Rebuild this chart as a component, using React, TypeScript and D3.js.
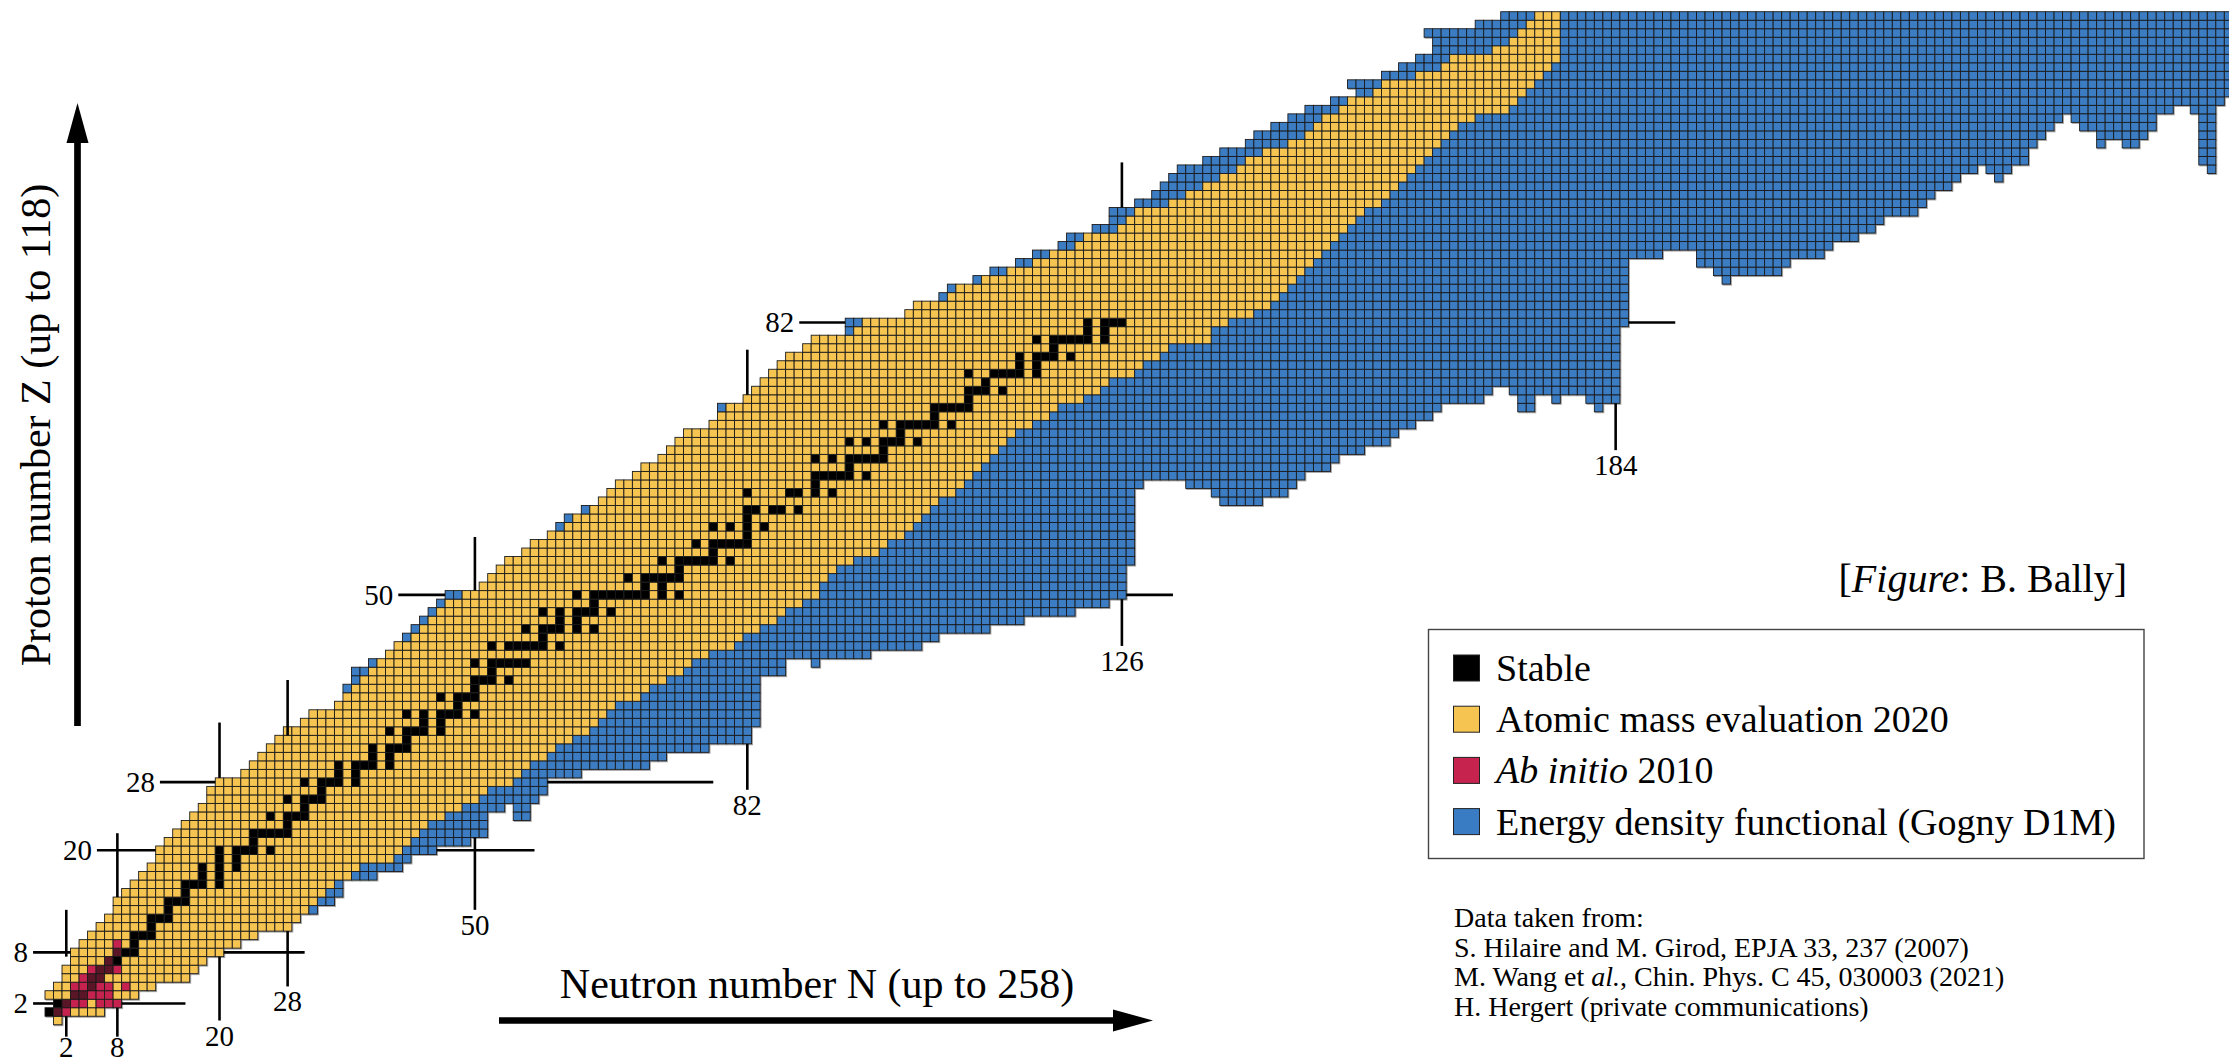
import React from 'react';
import * as d3 from 'd3';

// ---------- DATA ----------
// index = proton number Z (0..118)
const AME_MIN_N = [1,0,1,0,1,2,2,3,3,4,5,6,7,8,8,9,10,11,12,13,13,14,15,16,17,18,19,19,20,23,24,25,26,27,28,30,31,34,35,36,37,38,39,40,41,43,44,45,46,47,49,51,52,53,54,56,57,59,61,62,64,65,66,67,69,70,72,73,74,75,78,79,80,82,83,84,85,86,87,89,90,95,96,101,102,106,107,110,113,116,118,121,122,126,127,128,132,134,136,138,140,141,143,146,148,149,150,152,153,156,157,161,164,165,170,172,173,174,175];
const AME_MAX_N = [1,6,8,10,12,16,17,18,20,22,24,28,29,30,31,32,33,35,36,40,41,42,43,44,46,48,50,51,54,55,56,58,59,61,63,64,65,66,69,70,72,74,75,77,80,81,83,85,86,88,90,90,91,92,94,97,98,100,101,102,103,104,106,107,108,109,110,111,112,113,115,117,118,121,123,124,127,128,130,131,136,136,138,141,143,144,145,146,147,148,149,150,151,152,153,154,156,157,158,159,160,161,162,163,164,165,167,171,172,173,174,175,176,177,177,177,177,177,177];
// Gogny D1M: main bound range per Z (-1 = none)
const D1M_MIN_N = [-1,-1,-1,-1,-1,-1,-1,-1,3,4,5,6,7,8,8,9,10,11,12,13,13,14,15,16,17,18,19,19,20,23,24,25,26,27,28,30,31,34,35,35,36,36,38,40,41,42,43,44,45,46,47,51,52,53,54,56,57,59,60,61,63,65,66,67,69,70,72,73,74,75,78,79,79,82,83,84,85,86,87,89,90,94,94,101,102,105,106,109,111,114,116,119,120,123,125,125,128,130,131,132,133,136,138,141,142,144,146,148,151,154,153,157,159,161,163,163,162,168,171];
const D1M_MAX_N = [-1,-1,-1,-1,-1,-1,-1,-1,20,22,24,28,29,31,33,34,34,38,41,42,45,49,51,51,51,53,57,58,58,62,70,72,77,82,82,83,83,83,83,83,83,86,86,96,102,104,110,114,120,124,126,126,126,126,127,127,127,127,127,127,127,127,127,128,147,150,151,154,157,158,160,162,163,168,169,184,184,184,184,184,184,184,185,185,185,185,185,185,185,185,189,209,212,214,215,219,220,221,223,224,226,232,232,233,234,235,236,249,255,258,258,258,258,258,258,258,258,258,258];
// detached bound pieces of the D1M chart: [Z, Nfrom, Nto]
const D1M_ISLANDS = [[24,55,56],[25,55,56],[42,90,90],[61,138,142],[62,137,145],[63,134,146],[72,173,174],[72,182,182],[73,173,174],[73,177,177],[73,181,184],[74,172,184],[87,197,197],[88,196,203],[89,194,204],[90,194,208],[99,229,229],[100,228,230],[100,254,254],[101,253,254],[102,253,254],[103,241,241],[103,244,245],[103,253,254],[104,241,246],[104,253,254],[105,239,247],[105,253,254],[106,238,247],[106,253,254],[107,252,254]];
// stable isotopes: neutron numbers, index = Z
const STABLE_N = [[],[0,1],[1,2],[3,4],[5],[5,6],[6,7],[7,8],[8,9,10],[10],[10,11,12],[12],[12,13,14],[14],[14,15,16],[16],[16,17,18,20],[18,20],[18,20,22],[20,22],[20,22,23,24,26],[24],[24,25,26,27,28],[28],[26,28,29,30],[30],[28,30,31,32],[32],[30,32,33,34,36],[34,36],[34,36,37,38,40],[38,40],[38,40,41,42],[42],[40,42,43,44,46],[44,46],[42,44,46,47,48,50],[48],[46,48,49,50],[50],[50,51,52,54],[52],[50,52,53,54,55,56],[],[52,54,55,56,57,58,60],[58],[56,58,59,60,62,64],[60,62],[58,60,62,63,64,66],[64],[62,64,65,66,67,68,69,70,72,74],[70,72],[68,70,71,72,73,74],[74],[72,74,75,76,77,78,80],[78],[76,78,79,80,81,82],[82],[78,80,82,84],[82],[82,83,85,86,88],[],[82,87,88,90,92],[90],[90,91,92,93,94,96],[94],[90,92,94,95,96,97,98],[98],[94,96,98,99,100,102],[100],[98,100,101,102,103,104,106],[104],[104,105,106,107,108],[108],[108,109,110,112],[110],[108,111,112,113,114,116],[114,116],[114,116,117,118,120],[118],[116,118,119,120,121,122,124],[122,124],[122,124,125,126]];
// ab initio 2010 nuclei: [Z, N]
const AB_INITIO = [[1,1],[1,2],[2,2],[2,3],[2,4],[2,6],[2,7],[2,8],[3,3],[3,4],[3,5],[3,6],[3,7],[4,3],[4,4],[4,5],[4,6],[4,7],[4,9],[5,4],[5,5],[5,6],[6,5],[6,6],[6,7],[6,8],[7,7],[8,8],[9,8]];
// magic numbers
const MAGIC_Z_LEFT = [[2,-1.9,0.5],[8,-1.9,2.5],[20,5.6,12.5],[28,13.0,19.5],[50,41.0,46.5],[82,88.1,93.5]];
const MAGIC_Z_RIGHT = [[2,8.5,16.0],[8,20.5,30.0],[20,45.5,57.0],[28,58.5,78.0],[50,126.5,132.0],[82,185.5,191.0]];
const MAGIC_N_BOTTOM = [[2,0.5,-1.9],[8,1.5,-1.9],[20,7.5,0.0],[28,10.5,4.0],[50,21.5,13.0],[82,32.5,27.1],[126,49.5,44.0],[184,72.5,67.0]];
const MAGIC_N_TOP = [[2,7.5,13.0],[8,14.5,22.0],[20,28.5,35.0],[28,33.5,40.0],[50,50.5,56.8],[82,73.5,78.8],[126,95.5,100.8]];

const LEGEND = ['Stable', 'Atomic mass evaluation 2020', 'Ab initio 2010', 'Energy density functional (Gogny D1M)'];
const REFS = ['Data taken from:', 'S. Hilaire and M. Girod, EPJA 33, 237 (2007)', 'M. Wang et al., Chin. Phys. C 45, 030003 (2021)', 'H. Hergert (private communications)'];

// ---------- STYLE ----------
const W = 2229;
const H = 1062;
const C_BLUE = '#3a7cc3';
const C_YEL = '#f5c451';
const C_RED = '#c6244f';
const C_BLACK = '#000000';
const C_MAROON = '#5a1628';
const FONT = '"Liberation Serif", "Times New Roman", serif';

export default function App() {
  const S = 8.513;
  const x = d3.scaleLinear().domain([0, 258]).range([45, 45 + 258 * S]);
  const y = d3.scaleLinear().domain([0, 119]).range([1024.76, 1024.76 - 119 * S]);
  const cx = (n: number) => x(n + 0.5);
  const cy = (z: number) => y(z + 0.5);

  const grid = new Map<string, string>();
  const key = (z: number, n: number) => z + ',' + n;
  D1M_MIN_N.forEach((mn, z) => {
    if (mn < 0) return;
    for (let n = mn; n <= D1M_MAX_N[z]; n++) grid.set(key(z, n), C_BLUE);
  });
  D1M_ISLANDS.forEach(([z, a, b]) => { for (let n = a; n <= b; n++) grid.set(key(z, n), C_BLUE); });
  AME_MIN_N.forEach((mn, z) => { for (let n = mn; n <= AME_MAX_N[z]; n++) grid.set(key(z, n), C_YEL); });
  const abSet = new Set(AB_INITIO.map(([z, n]) => key(z, n)));
  AB_INITIO.forEach(([z, n]) => grid.set(key(z, n), C_RED));
  STABLE_N.forEach((ns, z) => ns.forEach((n) => grid.set(key(z, n), abSet.has(key(z, n)) ? C_MAROON : C_BLACK)));

  const cells: { z: number; n: number; c: string }[] = [];
  grid.forEach((c, k) => {
    const [z, n] = k.split(',').map(Number);
    if (x(n) < W + 10) cells.push({ z, n, c });
  });

  const lineW = 2.6;
  const labFS = 29;

  return (
    <div style={{ position: 'absolute', left: 0, top: 0, width: W, height: H, overflow: 'hidden', background: '#fff' }}>
      <svg width={W} height={H} style={{ display: 'block' }} fontFamily={FONT}>
        <defs>
          <filter id="sh" x="-2%" y="-2%" width="104%" height="104%">
            <feDropShadow dx="1" dy="1" stdDeviation="0.7" floodColor="#000" floodOpacity="0.35" />
          </filter>
        </defs>
        <rect x={0} y={0} width={W} height={H} fill="#fff" />
        <g stroke="#1b1b1b" strokeWidth={0.9} filter="url(#sh)">
          {cells.map((d, i) => (
            <rect key={i} x={x(d.n)} y={y(d.z + 1)} width={S} height={S} fill={d.c} />
          ))}
        </g>
        <g stroke="#000" strokeWidth={lineW} fill="none">
          {MAGIC_Z_LEFT.map(([z, a, b]) => <line key={'zl' + z} x1={cx(a)} x2={cx(b)} y1={cy(z)} y2={cy(z)} />)}
          {MAGIC_Z_RIGHT.map(([z, a, b]) => <line key={'zr' + z} x1={cx(a)} x2={cx(b)} y1={cy(z)} y2={cy(z)} />)}
          {MAGIC_N_BOTTOM.map(([n, a, b]) => <line key={'nb' + n} x1={cx(n)} x2={cx(n)} y1={cy(a)} y2={cy(b)} />)}
          {MAGIC_N_TOP.map(([n, a, b]) => <line key={'nt' + n} x1={cx(n)} x2={cx(n)} y1={cy(a)} y2={cy(b)} />)}
        </g>
        <g fontSize={labFS} fill="#000">
          {MAGIC_Z_LEFT.map(([z, a]) => (
            <text key={'tzl' + z} x={cx(a) - 5} y={cy(z) + 10} textAnchor="end">{z}</text>
          ))}
          {MAGIC_N_BOTTOM.map(([n, , b]) => (
            <text key={'tnb' + n} x={cx(n)} y={Math.min(cy(b) + 25, 1057)} textAnchor="middle">{n}</text>
          ))}
        </g>
        {/* axes arrows */}
        <line x1={77.5} x2={77.5} y1={726} y2={140} stroke="#000" strokeWidth={6.7} />
        <path d="M77.5,103 L66.5,143 L88.5,143 Z" fill="#000" />
        <text transform="translate(50,425) rotate(-90)" textAnchor="middle" fontSize={42}>Proton number Z (up to 118)</text>
        <line x1={499} x2={1116} y1={1020.5} y2={1020.5} stroke="#000" strokeWidth={6.7} />
        <path d="M1153,1020.5 L1113,1009.5 L1113,1031.5 Z" fill="#000" />
        <text x={817} y={998} textAnchor="middle" fontSize={42}>Neutron number N (up to 258)</text>
        {/* credit */}
        <text x={2127} y={592} textAnchor="end" fontSize={40}>[<tspan fontStyle="italic">Figure</tspan>: B. Bally]</text>
        {/* legend */}
        <rect x={1428.5} y={629.5} width={715.5} height={229} fill="#fff" stroke="#444" strokeWidth={1.4} />
        {[C_BLACK, C_YEL, C_RED, C_BLUE].map((c, i) => (
          <g key={'lg' + i}>
            <rect x={1453.5} y={655 + i * 51.2} width={26} height={26} fill={c} stroke="#222" strokeWidth={1} />
            <text x={1496} y={681 + i * 51.2} fontSize={38}>
              {i === 2 ? (<><tspan fontStyle="italic">Ab initio</tspan> 2010</>) : LEGEND[i]}
            </text>
          </g>
        ))}
        {/* references */}
        <g fontSize={28}>
          {REFS.map((t, i) => (
            <text key={'rf' + i} x={1454} y={927 + i * 29.5}>
              {i === 2 ? (<>M. Wang et <tspan fontStyle="italic">al.</tspan>, Chin. Phys. C 45, 030003 (2021)</>) : t}
            </text>
          ))}
        </g>
      </svg>
    </div>
  );
}
